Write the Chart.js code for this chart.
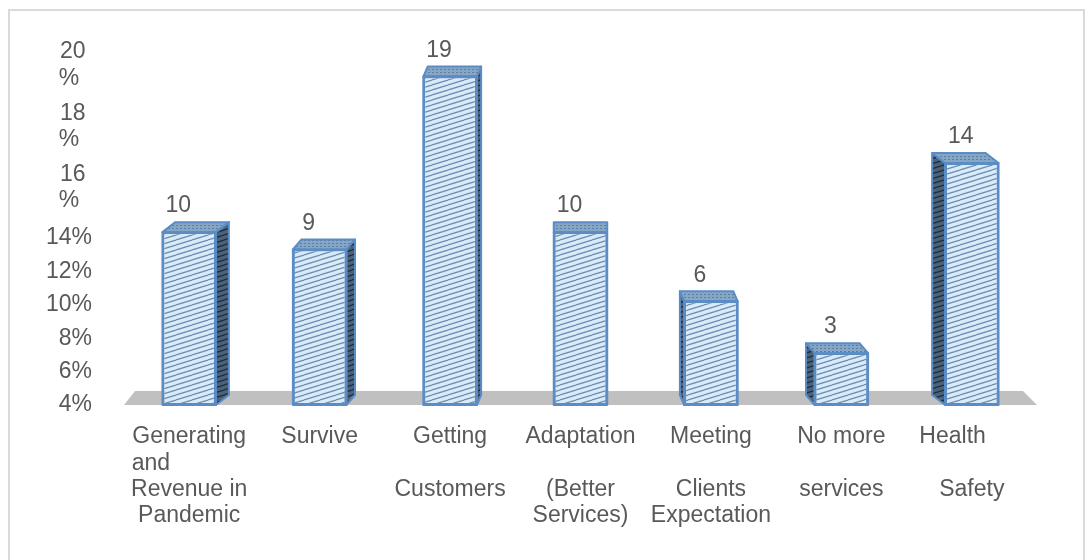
<!DOCTYPE html>
<html>
<head>
<meta charset="utf-8">
<script src="https://cdn.jsdelivr.net/npm/chart.js@4.4.1/dist/chart.umd.min.js"></script>
<style>
  html, body { margin: 0; padding: 0; background: #ffffff; }
  #wrap { position: relative; width: 1092px; height: 560px; overflow: hidden; }
  #c { position: absolute; left: 0; top: 0; }
  #frame { position: absolute; left: 8px; top: 9px; width: 1077px; height: 620px;
           border: 2px solid #dadada; box-sizing: border-box; pointer-events: none; }
</style>
</head>
<body>
<div id="wrap">
  <canvas id="c" width="1092" height="560"></canvas>
  <div id="frame"></div>
</div>
<script>
// Reasons given, with the number of respondents for each
const categories = [
  ['Generating', 'and            ', 'Revenue in', 'Pandemic'],
  ['Survive'],
  ['Getting', '', 'Customers'],
  ['Adaptation', '', '(Better', 'Services)'],
  ['Meeting', '', 'Clients', 'Expectation'],
  ['No more', '', 'services'],
  ['Health      ', '', 'Safety']
];
const counts = [10, 9, 19, 10, 6, 3, 14];

// Percentage axis labels and where each one sits on that axis
const yTickLabels = ['4%', '6%', '8%', '10%', '12%', '14%', ['16 ', '%  '], ['18 ', '%  '], ['20 ', '%  ']];
const yTickValues = [4, 6, 8, 10, 12, 14, 17.0, 20.65, 24.35];

const FONT = '"Liberation Sans", Arial, Helvetica, sans-serif';
const TEXT = '#595959';

// Diagonal hatch tile used for the bar faces
function hatch(bg, line, lw) {
  const t = document.createElement('canvas');
  t.width = 16; t.height = 5;
  const g = t.getContext('2d');
  g.fillStyle = bg;
  g.fillRect(0, 0, 16, 5);
  g.strokeStyle = line;
  g.lineWidth = lw;
  for (const off of [-5, 0, 5]) {
    g.beginPath();
    g.moveTo(0, 5 + off);
    g.lineTo(16, off);
    g.stroke();
  }
  return document.getElementById('c').getContext('2d').createPattern(t, 'repeat');
}
function dots(bg, dot) {
  const t = document.createElement('canvas');
  t.width = 4; t.height = 3;
  const g = t.getContext('2d');
  g.fillStyle = bg;
  g.fillRect(0, 0, 4, 3);
  g.fillStyle = dot;
  g.fillRect(0, 0, 2, 1);
  return document.getElementById('c').getContext('2d').createPattern(t, 'repeat');
}

const frontFill = hatch('#d9eaf8', '#6a8cb1', 1.2);
const sideFill = hatch('#4a627c', '#1f2c39', 1.2);
const topFill = dots('#86a6c6', '#5d7ea2');
const EDGE = '#5b8cc5';

// Floor slab, side and top faces, and value labels
const threeD = {
  id: 'threeD',
  beforeDatasetsDraw(chart) {
    const { ctx, chartArea: a } = chart;
    ctx.save();
    ctx.fillStyle = '#c0c0c0';
    ctx.beginPath();
    ctx.moveTo(a.left, a.bottom);
    ctx.lineTo(a.right, a.bottom);
    ctx.lineTo(a.right - 14, a.bottom - 14);
    ctx.lineTo(a.left + 11, a.bottom - 14);
    ctx.closePath();
    ctx.fill();
    ctx.restore();
  },
  afterDatasetsDraw(chart) {
    const { ctx, chartArea: a } = chart;
    const vx = (a.left + a.right) / 2;
    const meta = chart.getDatasetMeta(0);
    ctx.save();
    ctx.lineJoin = 'round';
    ctx.strokeStyle = EDGE;
    ctx.lineWidth = 2;
    meta.data.forEach((bar, i) => {
      const p = bar.getProps(['x', 'y', 'base', 'width'], true);
      const l = p.x - p.width / 2, r = p.x + p.width / 2;
      const top = p.y, bot = p.base;
      const dx = (vx - p.x) * 0.033;
      const dy = -10;
      // side face, on the side facing the middle of the chart
      if (Math.abs(dx) > 0.5) {
        const ex = dx > 0 ? r : l;
        ctx.fillStyle = sideFill;
        ctx.beginPath();
        ctx.moveTo(ex, top);
        ctx.lineTo(ex + dx, top + dy);
        ctx.lineTo(ex + dx, bot + dy);
        ctx.lineTo(ex, bot);
        ctx.closePath();
        ctx.fill();
        ctx.stroke();
      }
      // top face
      ctx.fillStyle = topFill;
      ctx.beginPath();
      ctx.moveTo(l, top);
      ctx.lineTo(l + dx, top + dy);
      ctx.lineTo(r + dx, top + dy);
      ctx.lineTo(r, top);
      ctx.closePath();
      ctx.fill();
      ctx.stroke();
      // front outline on top of the new faces
      ctx.strokeRect(l, top, p.width, bot - top);
      // value label
      ctx.fillStyle = TEXT;
      ctx.font = '23px ' + FONT;
      ctx.textAlign = 'center';
      ctx.textBaseline = 'middle';
      ctx.fillText(String(counts[i]), p.x - 11, top - 26);
    });
    ctx.restore();
  }
};

function noOverhang(s) {
  s.paddingTop = 0; s.paddingBottom = 0;
  s.paddingLeft = 0; s.paddingRight = 0;
}

new Chart(document.getElementById('c'), {
  type: 'bar',
  data: {
    labels: categories,
    datasets: [{
      data: counts,
      yAxisID: 'y',
      backgroundColor: frontFill,
      borderColor: EDGE,
      borderWidth: 2,
      borderSkipped: false,
      barPercentage: 0.82,
      categoryPercentage: 0.5
    }]
  },
  options: {
    responsive: false,
    devicePixelRatio: 1,
    animation: false,
    layout: { padding: { top: 42, right: 55, left: 0, bottom: 0 } },
    plugins: { legend: { display: false }, tooltip: { enabled: false } },
    scales: {
      x: {
        grid: { display: false, drawTicks: false },
        border: { display: false },
        ticks: {
          color: TEXT,
          font: { family: FONT, size: 23, lineHeight: 1.143 },
          padding: 19,
          maxRotation: 0,
          autoSkip: false
        },
        afterFit(s) { s.height = 155; noOverhang(s); }
      },
      y: { display: false, min: 0, max: 21, afterFit: noOverhang },
      pct: {
        position: 'left',
        min: 4,
        max: 25.74,
        grid: { display: false, drawTicks: false },
        border: { display: false },
        afterBuildTicks(s) { s.ticks = yTickValues.map(v => ({ value: v })); },
        ticks: {
          autoSkip: false,
          color: TEXT,
          font: { family: FONT, size: 23, lineHeight: 1.143 },
          padding: 32,
          callback: (v, i) => yTickLabels[i]
        },
        afterFit(s) { s.width = 124; noOverhang(s); }
      }
    }
  },
  plugins: [threeD]
});
</script>
</body>
</html>
